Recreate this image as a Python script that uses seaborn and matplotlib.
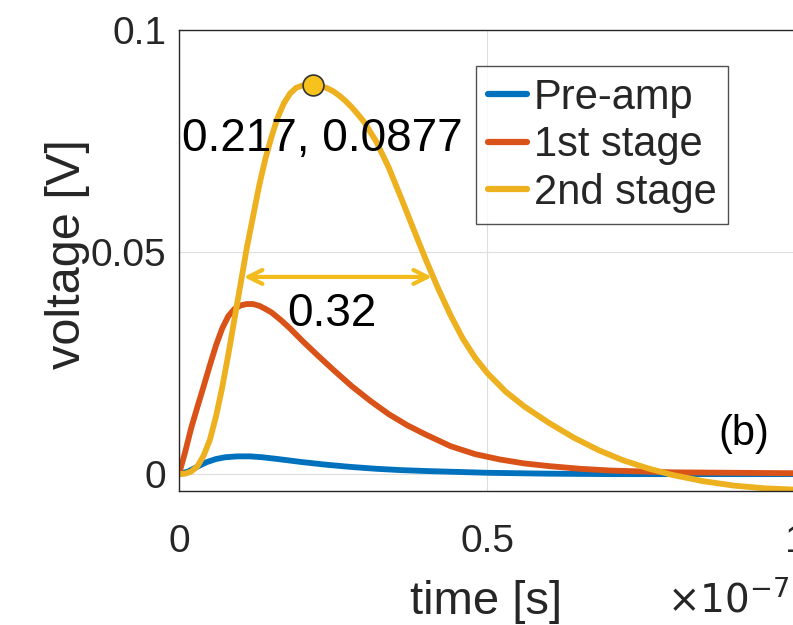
import numpy as np
import pandas as pd
import matplotlib
matplotlib.use("Agg")
import matplotlib.pyplot as plt
from matplotlib.ticker import FuncFormatter
import seaborn as sns

# time in units of 1e-7 s, voltage in V
t_pre = [0, 0.015, 0.03, 0.045, 0.06, 0.075, 0.095, 0.115, 0.135, 0.16, 0.2, 0.24,
         0.28, 0.32, 0.36, 0.4, 0.45, 0.5, 0.55, 0.6, 0.7, 0.8, 0.9, 1.0]
v_pre = [0, 0.0006, 0.0017, 0.0027, 0.0034, 0.0038, 0.0040, 0.0040, 0.0038, 0.0034, 0.0027, 0.0021,
         0.0016, 0.0012, 0.0009, 0.0007, 0.0005, 0.0003, 0.0002, 0.0001, 0.0, 0.0, 0.0, 0.0]

t_first = [0, 0.01, 0.02, 0.03, 0.04, 0.05, 0.06, 0.07, 0.08, 0.09, 0.1, 0.11, 0.12, 0.13,
           0.14, 0.15, 0.165, 0.18, 0.2, 0.225, 0.25, 0.28, 0.31, 0.34, 0.37, 0.4, 0.44, 0.48,
           0.52, 0.56, 0.6, 0.65, 0.7, 0.8, 0.9, 1.0]
v_first = [0, 0.005, 0.0105, 0.0152, 0.0198, 0.0245, 0.029, 0.0328, 0.0356, 0.0372, 0.0380,
           0.0383, 0.0383, 0.0379, 0.0372, 0.0364, 0.0347, 0.0328, 0.0300, 0.0267, 0.0235,
           0.0198, 0.0165, 0.0135, 0.0110, 0.0089, 0.0063, 0.0045, 0.0033, 0.0024, 0.0018,
           0.0012, 0.0008, 0.0004, 0.0003, 0.0002]

t_second = [0, 0.01, 0.02, 0.03, 0.04, 0.05, 0.06, 0.07, 0.08, 0.09, 0.1, 0.11, 0.12, 0.13,
            0.14, 0.15, 0.16, 0.17, 0.18, 0.19, 0.2, 0.217, 0.23, 0.24, 0.25, 0.26, 0.27, 0.28,
            0.29, 0.3, 0.32, 0.34, 0.36, 0.38, 0.4, 0.42, 0.44, 0.46, 0.48, 0.5, 0.53, 0.56,
            0.6, 0.64, 0.68, 0.72, 0.76, 0.8, 0.85, 0.9, 0.95, 1.0]
v_second = [0, 0.0001, 0.0006, 0.0018, 0.0042, 0.0077, 0.013, 0.0195, 0.027, 0.035, 0.043,
            0.051, 0.058, 0.065, 0.071, 0.076, 0.0803, 0.0835, 0.0857, 0.087, 0.0875, 0.0877,
            0.0874, 0.0869, 0.0862, 0.0852, 0.084, 0.0826, 0.081, 0.0793, 0.0748, 0.0690,
            0.0622, 0.0552, 0.0483, 0.0418, 0.0358, 0.0305, 0.0262, 0.0227, 0.0185, 0.0152,
            0.0115, 0.0082, 0.0054, 0.0031, 0.0013, -0.0002, -0.0016, -0.0026, -0.0032, -0.0035]

series_names = ["Pre-amp", "1st stage", "2nd stage"]
colors = ["#0072BD", "#D95319", "#EDB120"]

peak_t, peak_v = 0.217, 0.0877
fwhm_left, fwhm_right, fwhm_level = 0.105, 0.41, 0.0444
fwhm_text = "0.32"

sns.set_style("white")
plt.rcParams["font.family"] = ["Liberation Sans", "DejaVu Sans"]

df = pd.concat([
    pd.DataFrame({"t": t_pre, "v": v_pre, "series": series_names[0]}),
    pd.DataFrame({"t": t_first, "v": v_first, "series": series_names[1]}),
    pd.DataFrame({"t": t_second, "v": v_second, "series": series_names[2]}),
])

fig = plt.figure(figsize=(7.93, 6.25), dpi=100)
ax = fig.add_axes([179 / 793, (625 - 491) / 625, 617 / 793, 461 / 625])

sns.lineplot(data=df, x="t", y="v", hue="series", palette=colors, linewidth=4.2,
             ax=ax, sort=False, estimator=None, solid_joinstyle="round")

ax.set_xlim(0, 1)
ax.set_ylim(-0.0038, 0.1)
ax.set_xticks([0, 0.5, 1])
ax.set_yticks([0, 0.05, 0.1])
ax.xaxis.set_major_formatter(FuncFormatter(lambda x, p: "%g" % x))
ax.yaxis.set_major_formatter(FuncFormatter(lambda x, p: "%g" % x))
ax.grid(True, color="#dedede", linewidth=0.8)
ax.tick_params(direction="in", length=5, width=0.8, labelsize=28, colors="#262626",
               top=False, right=False)
ax.tick_params(axis="x", pad=24)
ax.tick_params(axis="y", pad=9)
for sp in ax.spines.values():
    sp.set_color("#262626")
    sp.set_linewidth(1.0)

ax.set_xlabel("time [s]", fontsize=34, color="#262626")
ax.set_ylabel("voltage [V]", fontsize=35, color="#262626")
ax.xaxis.set_label_coords(0.497, -0.192)
ax.yaxis.set_label_coords(-0.145, 0.515)
fig.text(0.918, 0.022, r"$\times10^{-7}$", fontsize=28, color="#262626", ha="center")

# peak marker and label
ax.plot([peak_t], [peak_v], "o", markersize=15, markerfacecolor="#F7C21B",
        markeredgecolor="#333333", markeredgewidth=1.2, zorder=5)
ax.text(peak_t + 0.016, 0.0755, "%g, %g" % (peak_t, peak_v), fontsize=33,
        ha="center", va="center", color="black")

# FWHM arrow
ax.annotate("", xy=(fwhm_left, fwhm_level), xytext=(fwhm_right, fwhm_level),
            arrowprops=dict(arrowstyle="<->", color="#F2BC1C", lw=3,
                            mutation_scale=25, shrinkA=0, shrinkB=0))
ax.text(0.248, 0.036, fwhm_text, fontsize=33, ha="center", va="center", color="black")

ax.text(0.915, 0.009, "(b)", fontsize=30, ha="center", va="center", color="black")

leg = ax.legend(loc="upper right", bbox_to_anchor=(0.89, 0.922), fontsize=30,
                handlelength=0.95, handletextpad=0.15, borderpad=0.28, labelspacing=0.18,
                frameon=True, fancybox=False, borderaxespad=0)
leg.get_frame().set_edgecolor("#262626")
leg.get_frame().set_linewidth(1.0)
for line in leg.get_lines():
    line.set_linewidth(4.5)

fig.savefig("out.png", dpi=100)
